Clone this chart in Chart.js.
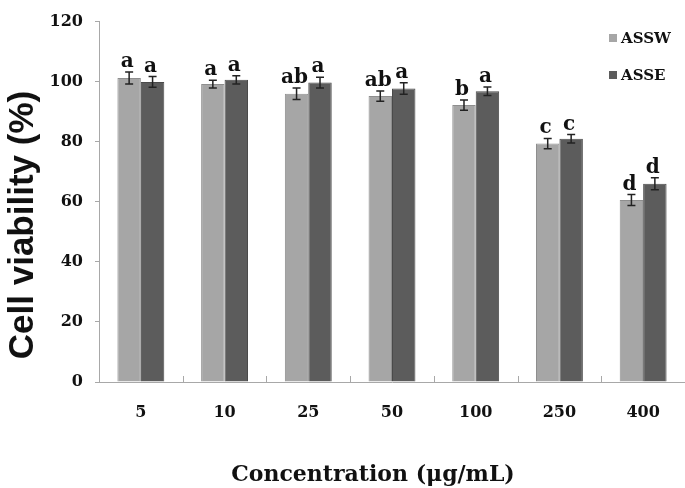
<!DOCTYPE html>
<html>
<head>
<meta charset="utf-8">
<script src="https://cdn.jsdelivr.net/npm/chart.js@4.4.0/dist/chart.umd.min.js"></script>
<style>
  body { margin: 0; background: #fff; }
  #wrap { width: 685px; height: 488px; }
</style>
</head>
<body>
<div id="wrap"><canvas id="viabilityChart" width="685" height="488"></canvas></div>
<script>
// data
const concentrations = ['5', '10', '25', '50', '100', '250', '400'];
const asswValues = [101.2, 99.2, 96.0, 95.2, 92.2, 79.4, 60.6];
const asseValues = [99.9, 100.6, 99.7, 97.7, 96.8, 81.0, 66.0];
const asswErrors = [2.0, 1.3, 1.9, 1.7, 1.7, 1.7, 1.8];
const asseErrors = [1.8, 1.4, 1.8, 1.9, 1.4, 1.4, 2.0];
const asswLetters = ['a', 'a', 'ab', 'ab', 'b', 'c', 'd'];
const asseLetters = ['a', 'a', 'a', 'a', 'a', 'c', 'd'];
const yMin = 0, yMax = 120, yStep = 20;

const axisColor = '#a8a8a8';
const serif = "'DejaVu Serif', 'Liberation Serif', serif";

// error bars + significance letters
const errorBarPlugin = {
  id: 'errorBars',
  afterDatasetsDraw(chart) {
    const ctx = chart.ctx;
    const yScale = chart.scales.y;
    const errs = [asswErrors, asseErrors];
    const letters = [asswLetters, asseLetters];
    ctx.save();
    chart.data.datasets.forEach(function (ds, di) {
      const meta = chart.getDatasetMeta(di);
      meta.data.forEach(function (bar, i) {
        const v = ds.data[i];
        const top = yScale.getPixelForValue(v + errs[di][i]);
        const bot = yScale.getPixelForValue(v - errs[di][i]);
        ctx.strokeStyle = '#222';
        ctx.lineWidth = 1.5;
        ctx.beginPath();
        ctx.moveTo(bar.x, top); ctx.lineTo(bar.x, bot);
        ctx.moveTo(bar.x - 4, top); ctx.lineTo(bar.x + 4, top);
        ctx.moveTo(bar.x - 4, bot); ctx.lineTo(bar.x + 4, bot);
        ctx.stroke();
        ctx.fillStyle = '#111';
        ctx.font = 'bold 20px ' + serif;
        ctx.textAlign = 'center';
        ctx.textBaseline = 'alphabetic';
        ctx.fillText(letters[di][i], bar.x - 2, top - 5);
      });
    });
    ctx.restore();
  }
};

// inner ticks on x axis, titles and legend
const decorPlugin = {
  id: 'decor',
  afterDraw(chart) {
    const ctx = chart.ctx;
    const xScale = chart.scales.x;
    const area = chart.chartArea;
    ctx.save();
    ctx.strokeStyle = axisColor;
    ctx.lineWidth = 1;
    ctx.beginPath();
    for (let i = 1; i <= concentrations.length; i++) {
      const x = Math.round(xScale.getPixelForValue(i - 0.5)) + 0.5;
      ctx.moveTo(x, area.bottom);
      ctx.lineTo(x, area.bottom - 6);
    }
    ctx.stroke();

    // x title
    ctx.fillStyle = '#111';
    ctx.font = 'bold 22px ' + serif;
    ctx.textAlign = 'center';
    ctx.textBaseline = 'alphabetic';
    ctx.fillText('Concentration (μg/mL)', 373, 481);

    // y title
    ctx.save();
    ctx.translate(33, 225);
    ctx.rotate(-Math.PI / 2);
    ctx.font = "bold 35px 'Liberation Sans', Arial, sans-serif";
    ctx.fillText('Cell viability (%)', 0, 0);
    ctx.restore();

    // legend
    const rows = [38, 75];
    chart.data.datasets.forEach(function (ds, di) {
      ctx.fillStyle = ds.backgroundColor;
      ctx.fillRect(609, rows[di] - 4, 8, 8);
      ctx.fillStyle = '#111';
      ctx.font = 'bold 15px ' + serif;
      ctx.textAlign = 'left';
      ctx.textBaseline = 'middle';
      ctx.fillText(ds.label, 621, rows[di] + 1);
    });
    ctx.restore();
  }
};

new Chart(document.getElementById('viabilityChart'), {
  type: 'bar',
  data: {
    labels: concentrations,
    datasets: [
      {
        label: 'ASSW',
        data: asswValues,
        backgroundColor: '#a6a6a6',
        borderColor: '#8e8e8e',
        borderWidth: 1,
        categoryPercentage: 0.56,
        barPercentage: 1.0
      },
      {
        label: 'ASSE',
        data: asseValues,
        backgroundColor: '#5c5c5c',
        borderColor: '#4a4a4a',
        borderWidth: 1,
        categoryPercentage: 0.56,
        barPercentage: 1.0
      }
    ]
  },
  options: {
    responsive: false,
    animation: false,
    layout: { padding: { top: 19, right: 0, left: 0, bottom: 0 } },
    plugins: {
      legend: { display: false },
      tooltip: { enabled: false }
    },
    scales: {
      x: {
        grid: { display: false },
        border: { color: axisColor, width: 1 },
        ticks: {
          padding: 13,
          color: '#111',
          font: { family: serif, size: 16, weight: 'bold' }
        },
        afterFit(scale) { scale.height = 106; }
      },
      y: {
        min: yMin,
        max: yMax,
        grid: { drawOnChartArea: false, tickLength: 4, color: axisColor },
        border: { color: axisColor, width: 1 },
        ticks: {
          stepSize: yStep,
          padding: 12,
          color: '#111',
          font: { family: serif, size: 16, weight: 'bold' }
        },
        afterFit(scale) { scale.width = 99; }
      }
    }
  },
  plugins: [errorBarPlugin, decorPlugin]
});
</script>
</body>
</html>
